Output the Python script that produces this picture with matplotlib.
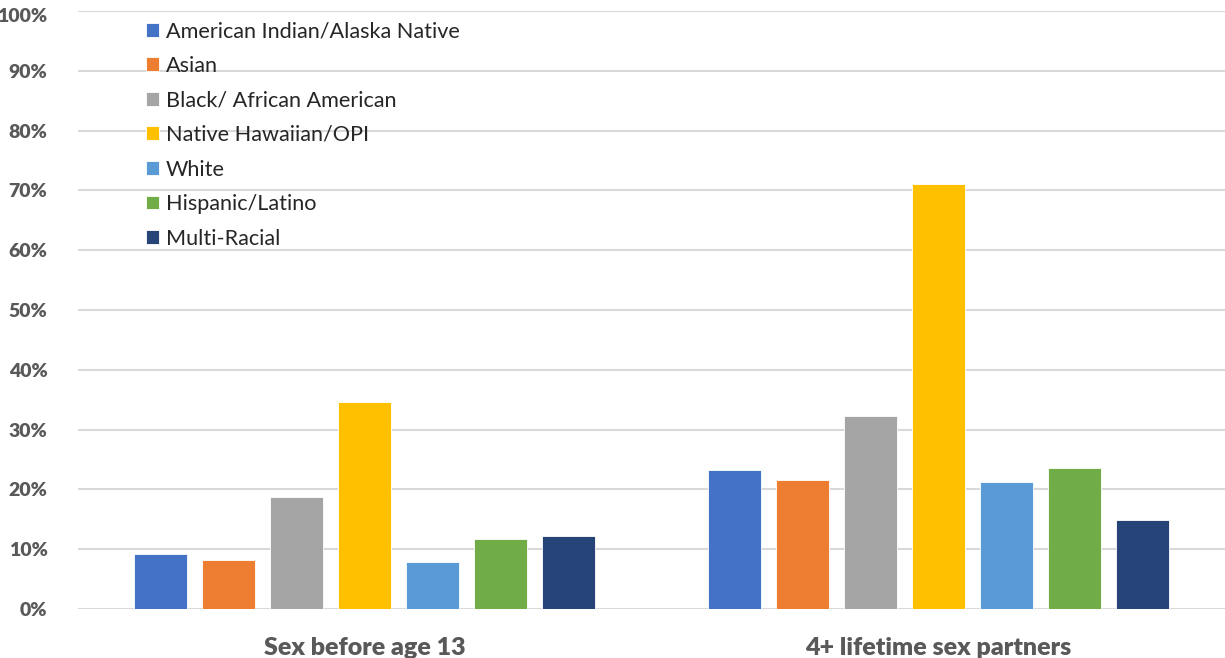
import matplotlib
matplotlib.use("Agg")
import matplotlib.pyplot as plt
import matplotlib.transforms as mtransforms
import numpy as np

# Survey measures and the share of students in each group reporting them
categories = ["Sex before age 13", "4+ lifetime sex partners"]
groups = [
    "American Indian/Alaska Native",
    "Asian",
    "Black/ African American",
    "Native Hawaiian/OPI",
    "White",
    "Hispanic/Latino",
    "Multi-Racial",
]
values = {
    "American Indian/Alaska Native": [9.2, 23.3],
    "Asian": [8.2, 21.5],
    "Black/ African American": [18.7, 32.2],
    "Native Hawaiian/OPI": [34.6, 71.0],
    "White": [7.8, 21.3],
    "Hispanic/Latino": [11.7, 23.5],
    "Multi-Racial": [12.2, 14.8],
}
colors = ["#4472C4", "#ED7D31", "#A5A5A5", "#FFC000", "#5B9BD5", "#70AD47", "#264478"]
y_ticks = list(range(0, 101, 10))
y_tick_labels = [f"{t}%" for t in y_ticks]

plt.rcParams["font.family"] = ["Lato", "DejaVu Sans"]

fig = plt.figure(figsize=(12.25, 6.58), dpi=100)
ax = fig.add_axes([0.0637, 0.0745, 0.9363, 0.9088])

x = np.arange(len(categories))
slot = 0.1186
width = 0.093
n = len(groups)
for i, (g, c) in enumerate(zip(groups, colors)):
    offset = (i - (n - 1) / 2) * slot
    ax.bar(x + offset, values[g], width=width, color=c, label=g,
           edgecolor="white", linewidth=0.6, zorder=3)

ax.set_xlim(-0.5, 1.5)
ax.set_ylim(0, 100)
ax.set_yticks(y_ticks)
ax.set_yticklabels(y_tick_labels)
ax.set_xticks(x)
ax.set_xticklabels(categories)

ax.grid(axis="y", color="#D9D9D9", linewidth=1.5, zorder=0)
ax.set_axisbelow(True)
for s in ax.spines.values():
    s.set_visible(False)
ax.tick_params(axis="both", length=0)
ax.tick_params(axis="y", pad=22, labelsize=14, labelcolor="#595959")
ax.tick_params(axis="x", pad=20, labelsize=18, labelcolor="#595959")
for lab in ax.get_yticklabels() + ax.get_xticklabels():
    lab.set_fontweight("heavy")

# nudge the top tick label down so it stays inside the figure
top_label = ax.yaxis.get_major_ticks()[-1].label1
shift = mtransforms.ScaledTranslation(0, -4 / 100, fig.dpi_scale_trans)
top_label.set_transform(top_label.get_transform() + shift)

leg = ax.legend(loc="upper left", bbox_to_anchor=(0.052, 0.997), frameon=False,
                fontsize=15.6, handlelength=0.6, handleheight=0.6,
                handletextpad=0.3, labelspacing=0.67, borderaxespad=0)
for t in leg.get_texts():
    t.set_color("#262626")

fig.savefig("out.png", dpi=100, facecolor="white")
